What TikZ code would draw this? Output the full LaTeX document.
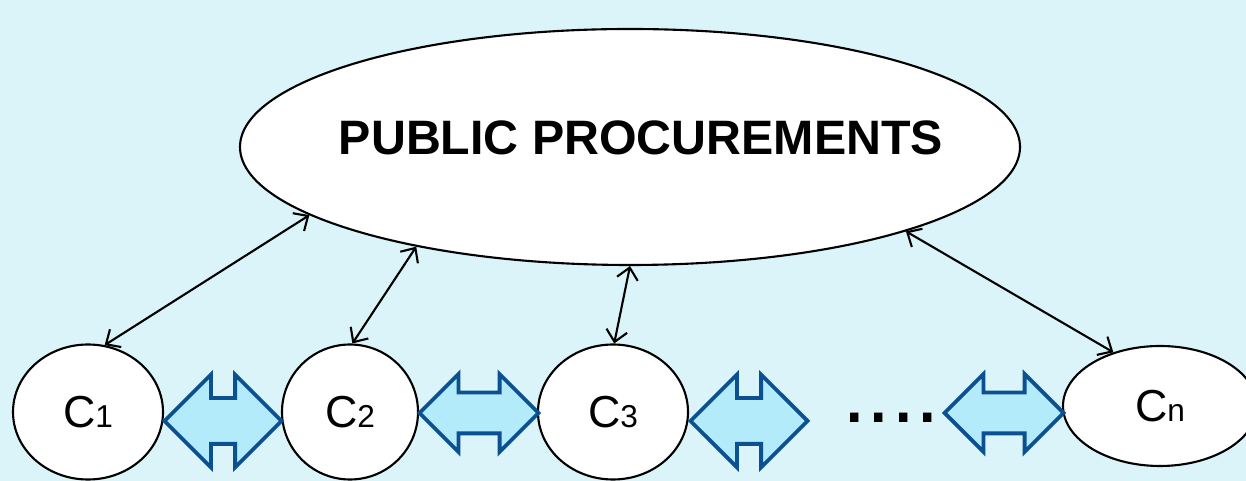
\documentclass[tikz,border=0pt]{standalone}
\usepackage{fontspec}
\setmainfont{Liberation Sans}
\usetikzlibrary{shapes.geometric}
\usetikzlibrary{shapes.arrows}
\usetikzlibrary{arrows.meta}

\definecolor{bgcyan}{HTML}{DAF4F9}
\definecolor{arrowfill}{HTML}{B3EBFA}
\definecolor{arrowblue}{HTML}{0B5091}

\newcommand{\csub}[1]{{\fontsize{25.5}{30}\selectfont C}{\fontsize{18}{20}\selectfont #1}}

\begin{document}
\begin{tikzpicture}[
  company/.style={draw, ellipse, fill=white, line width=1.2pt, inner sep=0pt},
  link/.style={{Straight Barb[length=6.5pt,width=12pt]}-{Straight Barb[length=6.5pt,width=12pt]}, line width=1.2pt},
  bigarrow/.style={double arrow, draw=arrowblue, fill=arrowfill, line width=2.2pt,
    inner xsep=0pt, inner ysep=0.42cm, minimum width=1.78cm,
    double arrow head extend=0.47cm, minimum height=2.34cm},
  smallarrow/.style={bigarrow, inner ysep=0.37cm, minimum width=1.48cm,
    double arrow head extend=0.37cm, minimum height=2.38cm}
]
\fill[bgcyan] (0,0) rectangle (24.92,9.62);
\useasboundingbox (0,0) rectangle (24.92,9.62);

% the procurement in the middle
\node[draw, ellipse, fill=white, line width=1.2pt, inner sep=0pt,
   minimum width=15.6cm, minimum height=4.72cm,
   label={[font=\fontsize{27.5}{33}\selectfont\bfseries, xshift=0.22cm, yshift=0.19cm]center:PUBLIC PROCUREMENTS}]
   (pp) at (12.6,6.68) {};

% companies
\node[company, minimum width=3cm, minimum height=2.7cm] (c1) at (1.76,1.38) {\csub{1}};
\node[company, minimum width=2.72cm, minimum height=2.7cm] (c2) at (7.0,1.38) {\csub{2}};
\node[company, minimum width=3cm, minimum height=2.7cm] (c3) at (12.26,1.38) {\csub{3}};
\node[company, minimum width=3.88cm, minimum height=2.4cm] (cn) at (23.2,1.5) {\csub{n}};

% block arrows between companies
\node[bigarrow] (a12) at (4.46,1.2) {};
\node[smallarrow] (a23) at (9.58,1.36) {};
\node[bigarrow] (a3x) at (14.98,1.2) {};
\node[smallarrow] (axn) at (20.08,1.36) {};

\node[font=\fontsize{50}{52}\selectfont, anchor=base] (dots) at (17.82,1.16) {....};

\draw[link] (pp.192.5) -- (c1.76);
\draw[link] (pp.205) -- (c2.88);
\draw[link] (pp.270) -- (c3.89);
\draw[link] (pp.343.6) -- (cn.131);
\end{tikzpicture}
\end{document}
